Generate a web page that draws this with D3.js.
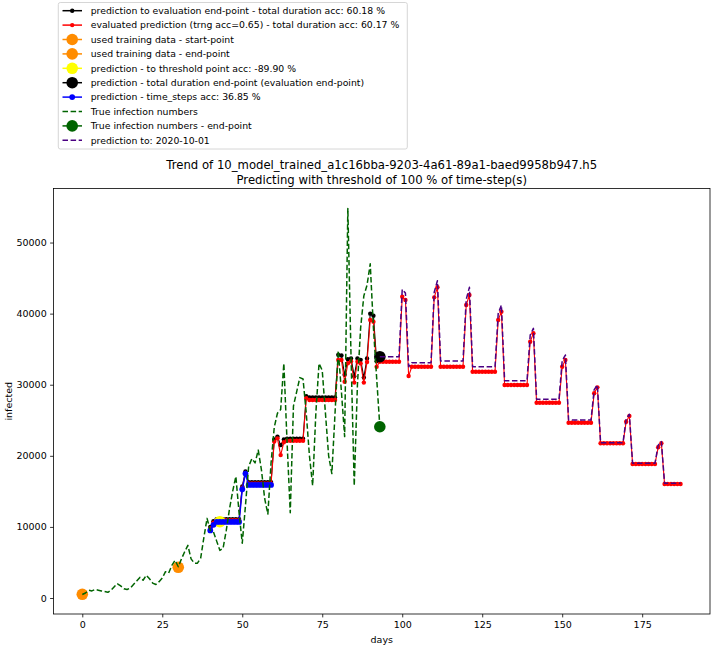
<!DOCTYPE html>
<html><head><meta charset="utf-8">
<script src="https://cdn.jsdelivr.net/npm/d3@7"></script>
<style>body{margin:0;background:#fff} svg{display:block} text{font-family:"DejaVu Sans",sans-serif;fill:#000}</style>
</head><body><svg id="c" width="714" height="650"></svg>
<script>
// ---- data ----
const trueStartDay = 0;
const trueInfected = [500,700,1100,1000,1200,1100,1000,900,800,1100,
  1600,2000,1700,1300,1200,1400,1900,2400,2900,2500,
  3200,2700,2100,1900,2300,2800,3700,3500,4600,5300,
  4400,5500,6500,7400,5500,4900,4900,5600,8500,11200,
  9500,9300,8000,6700,7000,9500,12500,15000,17100,12000,
  7700,13000,18500,19600,19000,20800,18000,14000,11800,19000,
  24000,26000,26500,33000,22000,12000,27000,29000,31000,30800,
  26000,20000,15800,26000,33000,32000,26000,20000,17500,26000,
  34800,29000,22700,54800,34000,15800,30000,38000,42500,44000,
  47000,38000,31000,24100];
const blueStartDay = 40;
const blueVals = [9500,10300,10700,10700,10700,10700,10700,10700,10700,10700,
  15300,17500,15900,15900,15900,15900,15900,15900,15900,15900];
const blackStartDay = 40;
const blackVals = [10000,10800,11100,11100,11100,11100,11100,11100,11100,11100,
  15700,17800,16300,16300,16300,16300,16300,16300,16300,16300,
  22300,22700,21500,22300,22400,22400,22400,22400,22400,22400,
  28400,28200,28200,28200,28200,28200,28200,28200,28200,28200,
  34200,34100,31400,33600,33700,31200,33700,33500,31000,33700,40000,39700,33300,33940];
const redStartDay = 40;
const redVals = [9800,10600,10950,10950,10950,10950,10950,10950,10950,10950,
  15500,17600,16100,16100,16100,16100,16100,16100,16100,16100,
  22000,22460,20100,21900,22120,22120,22120,22120,22120,22120,
  28090,27850,27850,27850,27850,27850,27850,27850,27850,27850,
  33470,33470,30420,33010,33300,30300,33230,33000,30300,33200,39100,38860,32530,
  33230,33230,33230,33230,33230,33230,33230,
  42380,41910,31220,32530,32530,32530,32530,32530,32530,32530,
  42290,43700,32530,32530,32530,32530,32530,32530,32530,32530,
  41210,42620,31830,31830,31830,31830,31830,31830,31830,31830,
  39100,40270,29960,29960,29960,29960,29960,29960,29960,29960,
  36050,37230,27470,27470,27470,27470,27470,27470,27470,27470,
  32530,33470,24660,24660,24660,24660,24660,24660,24660,24660,
  28790,29630,21760,21760,21760,21760,21760,21760,21760,21760,
  24800,25600,18850,18850,18850,18850,18850,18850,18850,18850,
  21200,21760,16030,16030,16030,16030,16030,16030];
const purpleStartDay = 93;
const purpleVals = [33940,33940,33940,33940,33940,33940,33940,
  43420,42900,32530,33100,33100,33100,33100,33100,33100,33100,
  43000,44630,33330,33330,33330,33330,33330,33330,33330,33330,
  42000,43700,32530,32530,32530,32530,32530,32530,32530,32530,
  40000,41210,30560,30560,30560,30560,30560,30560,30560,30560,
  37000,37930,27950,27950,27950,27950,27950,27950,27950,27950,
  33400,34180,25030,25030,25030,25030,25030,25030,25030,25030,
  29300,29960,21840,21840,21840,21840,21840,21840,21840,21840,
  25200,25840,18950,18950,18950,18950,18950,18950,18950,18950,
  21500,21990,16130,16130,16130,16130,16130,16130];
const trainStartPoint = [0, 520];
const trainEndPoint = [30, 4318];
const thresholdPoint = [43, 10730];
const evalEndPoint = [93, 33940];
const trueEndPoint = [93, 24090];
const xTicks = [0,25,50,75,100,125,150,175];
const yTicks = [0,10000,20000,30000,40000,50000];
const titleLines = ["Trend of 10_model_trained_a1c16bba-9203-4a61-89a1-baed9958b947.h5",
  "Predicting with threshold of 100 % of time-step(s)"];
const legendLabels = [
  "prediction to evaluation end-point - total duration acc: 60.18 %",
  "evaluated prediction (trng acc=0.65) - total duration acc: 60.17 %",
  "used training data - start-point",
  "used training data - end-point",
  "prediction - to threshold point acc: -89.90 %",
  "prediction - total duration end-point (evaluation end-point)",
  "prediction - time_steps acc: 36.85 %",
  "True infection numbers",
  "True infection numbers - end-point",
  "prediction to: 2020-10-01"];

// ---- styles ----
const C = {black:"#000", red:"#ff0000", orange:"#ff8c00", yellow:"#ffff00",
  blue:"#0000ff", green:"#006400", purple:"#4b0082"};
const legendStyles = [
  {c:C.black, line:true, r:2.2},
  {c:C.red, line:true, r:2.2},
  {c:C.orange, line:true, r:5.8},
  {c:C.orange, line:true, r:5.8},
  {c:C.yellow, line:true, r:5.8},
  {c:C.black, line:true, r:5.8},
  {c:C.blue, line:true, r:2.9},
  {c:C.green, dash:"5.5,2.6"},
  {c:C.green, line:true, r:5.8},
  {c:C.purple, dash:"5.5,2.6"}];

const svg = d3.select("#c");
const L = 53.5, R = 710, T = 188.5, B = 614;
const x = d3.scaleLinear().domain([-9.0, 196.2]).range([L, R]);
const y = d3.scaleLinear().domain([-2250, 57600]).range([B, T]);

const plot = svg.append("g");
function series(start, vals){ return vals.map((v,i)=>[start+i, v]); }
const line = d3.line().x(d=>x(d[0])).y(d=>y(d[1]));

function drawLine(data, color, width, dash, r){
  plot.append("path").attr("d", line(data)).attr("fill","none")
    .attr("stroke", color).attr("stroke-width", width)
    .attr("stroke-dasharray", dash || null).attr("stroke-linejoin","round");
  if (r) plot.append("g").selectAll("circle").data(data).join("circle")
    .attr("cx", d=>x(d[0])).attr("cy", d=>y(d[1])).attr("r", r).attr("fill", color);
}
function dot(p, color, r){
  plot.append("circle").attr("cx", x(p[0])).attr("cy", y(p[1])).attr("r", r).attr("fill", color);
}

drawLine(series(blackStartDay, blackVals), C.black, 1.1, null, 2.2);
drawLine(series(redStartDay, redVals), C.red, 1.1, null, 2.2);
dot(trainStartPoint, C.orange, 5.8);
dot(trainEndPoint, C.orange, 5.8);
dot(thresholdPoint, C.yellow, 5.8);
dot(evalEndPoint, C.black, 5.8);
drawLine(series(blueStartDay, blueVals), C.blue, 1.5, null, 2.9);
drawLine(series(trueStartDay, trueInfected), C.green, 1.5, "5.5,2.6", 0);
dot(trueEndPoint, C.green, 5.8);
drawLine(series(purpleStartDay, purpleVals), C.purple, 1.5, "5.5,2.6", 0);

// ---- axes ----
const xAxis = d3.axisBottom(x).tickValues(xTicks).tickSize(3.4).tickPadding(3.4).tickFormat(d3.format("d"));
const yAxis = d3.axisLeft(y).tickValues(yTicks).tickSize(3.4).tickPadding(3.4).tickFormat(d3.format("d"));
const gx = svg.append("g").attr("transform", `translate(0,${B})`).call(xAxis);
const gy = svg.append("g").attr("transform", `translate(${L},0)`).call(yAxis);
[gx, gy].forEach(g=>{
  g.select(".domain").remove();
  g.selectAll("line").attr("stroke","#000").attr("stroke-width",0.8);
  g.selectAll("text").attr("font-size","9.5px").attr("font-family","DejaVu Sans");
});
svg.append("rect").attr("x",L).attr("y",T).attr("width",R-L).attr("height",B-T)
  .attr("fill","none").attr("stroke","#000").attr("stroke-width",0.8);

svg.append("text").attr("x",(L+R)/2).attr("y",643).attr("text-anchor","middle")
  .attr("font-size","9.5px").text("days");
svg.append("text").attr("transform",`translate(12,${(T+B)/2}) rotate(-90)`)
  .attr("text-anchor","middle").attr("font-size","9.5px").text("infected");

// ---- title ----
titleLines.forEach((t,i)=>{
  svg.append("text").attr("x",(L+R)/2).attr("y",169+i*15).attr("text-anchor","middle")
    .attr("font-size","11.67px").text(t);
});

// ---- legend ----
const lg = svg.append("g");
lg.append("rect").attr("x",58.3).attr("y",2.5).attr("width",349).attr("height",146.5)
  .attr("rx",2).attr("fill","#fff").attr("fill-opacity",0.8).attr("stroke","#ccc").attr("stroke-width",0.8);
legendLabels.forEach((lab,i)=>{
  const cy = 10.7 + i*14.4;
  const s = legendStyles[i];
  lg.append("line").attr("x1",62.5).attr("x2",82).attr("y1",cy).attr("y2",cy)
    .attr("stroke",s.c).attr("stroke-width",1.5).attr("stroke-dasharray",s.dash||null);
  if (s.r) lg.append("circle").attr("cx",72.2).attr("cy",cy).attr("r",s.r).attr("fill",s.c);
  lg.append("text").attr("x",90.7).attr("y",cy).attr("dy","0.35em").attr("font-size","9.3px").text(lab);
});
</script></body></html>
